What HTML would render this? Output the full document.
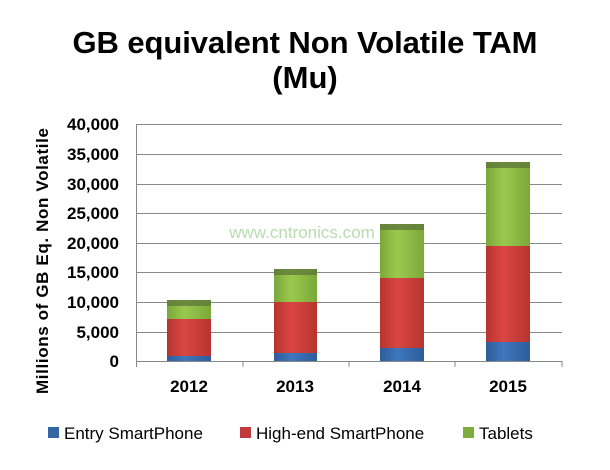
<!DOCTYPE html>
<html><head><style>
body{margin:0;background:#fff;}
svg text{font-family:"Liberation Sans",sans-serif;}
</style></head><body>
<svg width="610" height="465" xmlns="http://www.w3.org/2000/svg">
<defs>
<linearGradient id="g" x1="0" x2="1"><stop offset="0" stop-color="#7aa83a"/><stop offset="0.4" stop-color="#9bc94f"/><stop offset="1" stop-color="#7aa83a"/></linearGradient>
<linearGradient id="r" x1="0" x2="1"><stop offset="0" stop-color="#b83430"/><stop offset="0.4" stop-color="#d94642"/><stop offset="1" stop-color="#b83430"/></linearGradient>
<linearGradient id="b" x1="0" x2="1"><stop offset="0" stop-color="#2d5d9a"/><stop offset="0.4" stop-color="#3f76bd"/><stop offset="1" stop-color="#2d5d9a"/></linearGradient>
</defs>
<text x="305" y="53" font-size="31" font-weight="bold" text-anchor="middle" textLength="465">GB equivalent Non Volatile TAM</text>
<text x="305" y="88" font-size="31" font-weight="bold" text-anchor="middle">(Mu)</text>
<g stroke="#888" stroke-width="1">
<line x1="136" y1="124.5" x2="562" y2="124.5"/><line x1="136" y1="154.5" x2="562" y2="154.5"/>
<line x1="136" y1="184.5" x2="562" y2="184.5"/><line x1="136" y1="213.5" x2="562" y2="213.5"/>
<line x1="136" y1="243.5" x2="562" y2="243.5"/><line x1="136" y1="272.5" x2="562" y2="272.5"/>
<line x1="136" y1="302.5" x2="562" y2="302.5"/><line x1="136" y1="332.5" x2="562" y2="332.5"/>
<line x1="136" y1="361.5" x2="562" y2="361.5"/>
<line x1="136.5" y1="124" x2="136.5" y2="367"/>
<line x1="243" y1="361" x2="243" y2="367"/><line x1="349" y1="361" x2="349" y2="367"/><line x1="455" y1="361" x2="455" y2="367"/><line x1="562" y1="361" x2="562" y2="367"/>
</g>
<g font-size="17" font-weight="bold" text-anchor="end" fill="#000">
<text x="119" y="130">40,000</text><text x="119" y="160">35,000</text><text x="119" y="190">30,000</text>
<text x="119" y="219">25,000</text><text x="119" y="249">20,000</text><text x="119" y="278">15,000</text>
<text x="119" y="308">10,000</text><text x="119" y="338">5,000</text><text x="119" y="367">0</text>
</g>
<text transform="translate(48,261) rotate(-90)" font-size="17" font-weight="bold" text-anchor="middle" textLength="266">Millions of GB Eq.  Non Volatile</text>
<rect x="167" y="300" width="44" height="19" fill="url(#g)"/><rect x="167" y="319" width="44" height="37" fill="url(#r)"/><rect x="167" y="356" width="44" height="5" fill="url(#b)"/>
<rect x="274" y="269" width="43" height="33" fill="url(#g)"/><rect x="274" y="302" width="43" height="51" fill="url(#r)"/><rect x="274" y="353" width="43" height="8" fill="url(#b)"/>
<rect x="380" y="224" width="44" height="54" fill="url(#g)"/><rect x="380" y="278" width="44" height="70" fill="url(#r)"/><rect x="380" y="348" width="44" height="13" fill="url(#b)"/>
<rect x="486" y="162" width="44" height="84" fill="url(#g)"/><rect x="486" y="246" width="44" height="96" fill="url(#r)"/><rect x="486" y="342" width="44" height="19" fill="url(#b)"/>
<g fill="#5f7a3a" opacity="0.8"><rect x="380" y="224" width="44" height="6"/><rect x="486" y="162" width="44" height="6"/><rect x="274" y="269" width="43" height="6"/><rect x="167" y="300" width="44" height="6"/></g>
<text x="302" y="238" font-size="17" fill="#b8dcb0" text-anchor="middle">www.cntronics.com</text>
<g font-size="17" font-weight="bold" text-anchor="middle">
<text x="189" y="392">2012</text><text x="295" y="392">2013</text><text x="402" y="392">2014</text><text x="508" y="392">2015</text>
</g>
<g font-size="17">
<rect x="48" y="427" width="11" height="11" fill="#3465a4"/><text x="64" y="439">Entry SmartPhone</text>
<rect x="240" y="427" width="11" height="11" fill="#c0393b"/><text x="256" y="439">High-end SmartPhone</text>
<rect x="463" y="427" width="11" height="11" fill="#7fab3f"/><text x="479" y="439">Tablets</text>
</g>
</svg>
</body></html>
